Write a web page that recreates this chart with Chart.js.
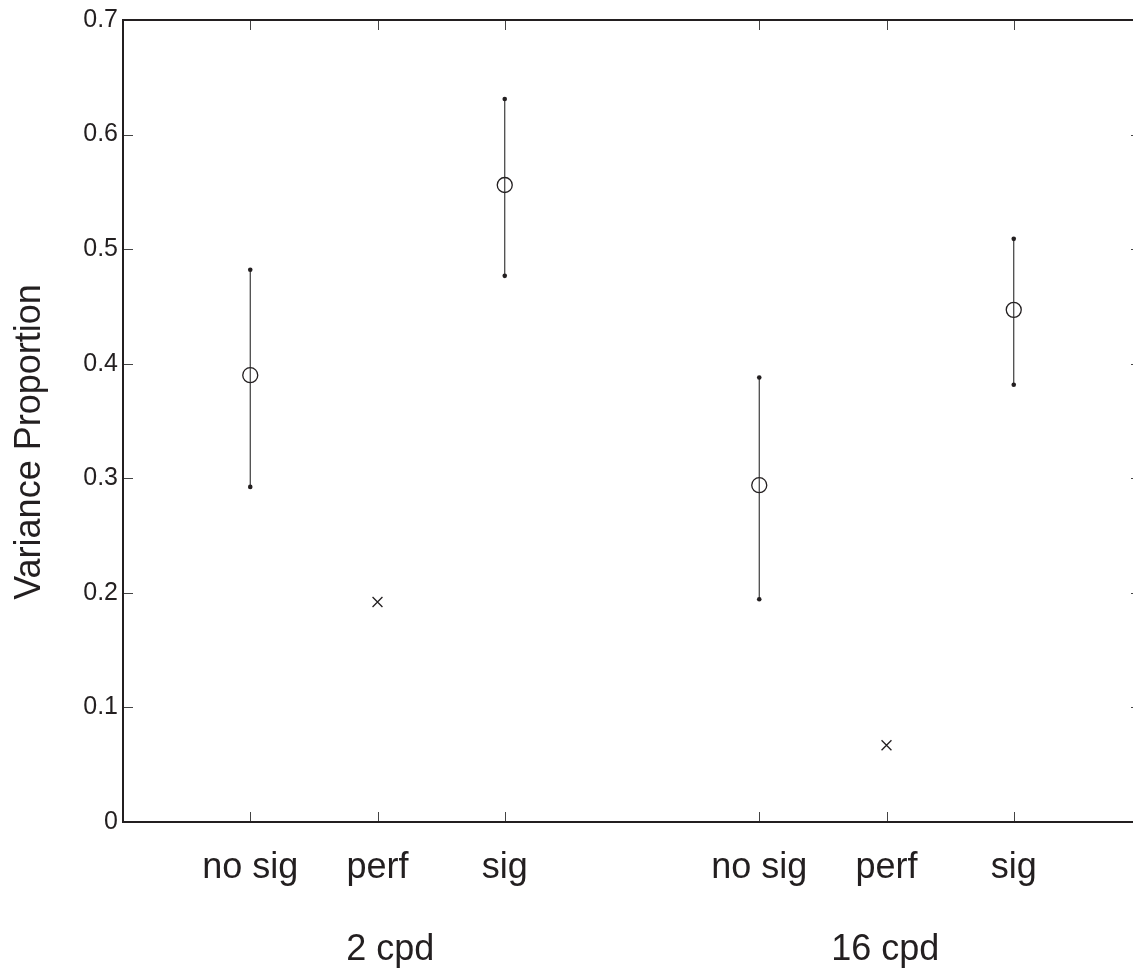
<!DOCTYPE html>
<html>
<head>
<meta charset="utf-8">
<script src="https://cdn.jsdelivr.net/npm/chart.js@4.4.1/dist/chart.umd.min.js"></script>
<style>
  html, body { margin: 0; padding: 0; background: #fff; overflow: hidden; width: 1133px; height: 969px; }
  #wrap { width: 1133px; height: 969px; overflow: hidden; }
  canvas { display: block; }
</style>
</head>
<body>
<div id="wrap"><canvas id="c" width="1151" height="969"></canvas></div>
<script>
// ---- data ----
const xTickValues = [1, 2, 3, 5, 6, 7];
const xTickLabels = ['no sig', 'perf', 'sig', 'no sig', 'perf', 'sig'];
const yTickValues = [0, 0.1, 0.2, 0.3, 0.4, 0.5, 0.6, 0.7];
const yTickLabels = ['0', '0.1', '0.2', '0.3', '0.4', '0.5', '0.6', '0.7'];

const errX     = [1, 3, 5, 7];
const errMean  = [0.390, 0.556, 0.294, 0.447];
const errUpper = [0.482, 0.631, 0.388, 0.509];
const errLower = [0.2925, 0.4767, 0.1944, 0.3816];

const perfX = [2, 6];
const perfY = [0.192, 0.067];

const groupLabels = ['2 cpd', '16 cpd'];
const groupCenters = [2.1, 5.99];
const yTitle = 'Variance Proportion';

const FONT = "'Liberation Sans', Arial, Helvetica, sans-serif";
const INK = '#231f20';

// ---- datasets ----
const datasets = [];
errX.forEach((x, i) => {
  datasets.push({
    type: 'scatter',
    showLine: true,
    data: [{ x: x, y: errLower[i] }, { x: x, y: errUpper[i] }],
    borderColor: '#2a2a2a',
    borderWidth: 1.1,
    pointRadius: 2.3,
    pointBackgroundColor: INK,
    pointBorderWidth: 0,
    pointHoverRadius: 2.3
  });
});
datasets.push({
  type: 'scatter',
  data: errX.map((x, i) => ({ x: x, y: errMean[i] })),
  pointStyle: 'circle',
  pointRadius: 7.5,
  pointHoverRadius: 7.5,
  borderColor: INK,
  borderWidth: 1.3,
  backgroundColor: 'rgba(0,0,0,0)'
});
datasets.push({
  type: 'scatter',
  data: perfX.map((x, i) => ({ x: x, y: perfY[i] })),
  pointStyle: 'crossRot',
  pointRadius: 7,
  pointHoverRadius: 7,
  borderColor: INK,
  borderWidth: 1.3
});

// ---- plugins ----
const framePlugin = {
  id: 'frame',
  afterDatasetsDraw(chart) {
    const { ctx, chartArea: a, scales } = chart;
    ctx.save();
    ctx.strokeStyle = '#444';
    ctx.lineWidth = 1;
    const L = 10;
    xTickValues.forEach(v => {
      const px = Math.round(scales.x.getPixelForValue(v)) + 0.5;
      ctx.beginPath();
      ctx.moveTo(px, a.bottom); ctx.lineTo(px, a.bottom - L);
      ctx.moveTo(px, a.top); ctx.lineTo(px, a.top + L);
      ctx.stroke();
    });
    yTickValues.forEach(v => {
      const py = Math.round(scales.y.getPixelForValue(v)) + 0.5;
      ctx.beginPath();
      ctx.moveTo(a.left, py); ctx.lineTo(a.left + L, py);
      ctx.moveTo(a.right, py); ctx.lineTo(a.right - L, py);
      ctx.stroke();
    });
    ctx.strokeStyle = INK;
    ctx.lineWidth = 2;
    ctx.strokeRect(a.left, a.top, a.right - a.left, a.bottom - a.top);
    ctx.restore();
  }
};

const textPlugin = {
  id: 'texts',
  afterDraw(chart) {
    const { ctx, chartArea: a, scales } = chart;
    ctx.save();
    ctx.fillStyle = INK;
    ctx.font = '36px ' + FONT;
    ctx.textAlign = 'center';
    ctx.textBaseline = 'alphabetic';
    groupLabels.forEach((t, i) => {
      ctx.fillText(t, scales.x.getPixelForValue(groupCenters[i]), a.bottom + 138);
    });
    ctx.translate(30, (a.top + a.bottom) / 2 + 21);
    ctx.rotate(-Math.PI / 2);
    ctx.textBaseline = 'middle';
    ctx.fillText(yTitle, 0, 0);
    ctx.restore();
  }
};

new Chart(document.getElementById('c'), {
  type: 'scatter',
  data: { datasets },
  options: {
    responsive: false,
    animation: false,
    events: [],
    layout: { padding: { left: 0, top: 20, right: 10, bottom: 0 } },
    plugins: { legend: { display: false }, tooltip: { enabled: false } },
    scales: {
      x: {
        type: 'linear',
        min: 0, max: 8,
        grid: { display: false, drawTicks: false },
        border: { display: false },
        afterBuildTicks: s => { s.ticks = xTickValues.map(v => ({ value: v })); },
        afterFit: s => { s.height = 147; },
        ticks: {
          autoSkip: false, maxRotation: 0, minRotation: 0,
          padding: 24,
          color: INK,
          font: { family: FONT, size: 36 },
          callback: v => { const i = xTickValues.indexOf(v); return i >= 0 ? xTickLabels[i] : ''; }
        }
      },
      y: {
        type: 'linear',
        min: 0, max: 0.7,
        grid: { display: false, drawTicks: false },
        border: { display: false },
        afterBuildTicks: s => { s.ticks = yTickValues.map(v => ({ value: v })); },
        afterFit: s => { s.width = 123; },
        ticks: {
          padding: 5,
          color: INK,
          font: { family: FONT, size: 25 },
          callback: (v, i) => yTickLabels[yTickValues.indexOf(v)] ?? ''
        }
      }
    }
  },
  plugins: [framePlugin, textPlugin]
});
</script>
</body>
</html>
